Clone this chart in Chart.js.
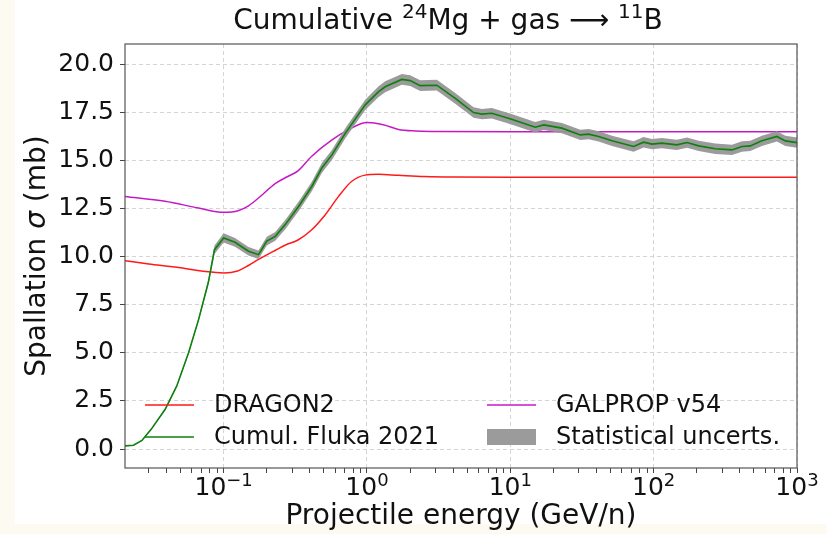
<!DOCTYPE html>
<html>
<head>
<meta charset="utf-8">
<script src="https://cdn.jsdelivr.net/npm/chart.js@4/dist/chart.umd.min.js"></script>
<style>
  html, body { margin: 0; padding: 0; background: #fdfaf2; }
  canvas { display: block; }
</style>
</head>
<body>
<canvas id="chart" width="827" height="534"></canvas>
<script>
// --- dados: secoes de choque de espalacao Mg24 -> B11 ---

// DRAGON2 (curva suave)
const dragonE = [0.0205, 0.03, 0.05, 0.075, 0.1, 0.125, 0.15, 0.175, 0.23, 0.27, 0.33, 0.41, 0.51, 0.63, 0.78, 0.97, 1.2, 1.66, 2.5, 4.1, 10, 100, 1000];
const dragonSigma = [9.78, 9.62, 9.42, 9.22, 9.15, 9.25, 9.55, 9.85, 10.33, 10.6, 10.86, 11.38, 12.16, 13.1, 13.9, 14.23, 14.27, 14.22, 14.16, 14.13, 14.12, 14.12, 14.12];

// GALPROP v54
const galpropE = [0.0205, 0.039, 0.067, 0.1, 0.126, 0.15, 0.175, 0.23, 0.28, 0.33, 0.41, 0.57, 0.74, 1.0, 1.3, 1.66, 2.2, 3.2, 10, 100, 1000];
const galpropSigma = [13.12, 12.87, 12.52, 12.3, 12.38, 12.65, 13.04, 13.8, 14.16, 14.45, 15.2, 16.06, 16.58, 16.96, 16.85, 16.6, 16.52, 16.49, 16.48, 16.48, 16.48];

// Fluka 2021 cumulativo + incerteza estatistica
const flukaE = [0.0205, 0.0235, 0.0269, 0.0313, 0.0391, 0.0471, 0.0569, 0.0667, 0.0784, 0.0863, 0.1, 0.12, 0.149, 0.175, 0.2, 0.229, 0.269, 0.333, 0.412, 0.484, 0.569, 0.705, 0.972, 1.2, 1.34, 1.75, 2.0, 2.35, 3.07, 4.13, 5.54, 6.33, 7.43, 10.2, 14.9, 17.1, 22.9, 30.8, 35.2, 41.3, 51.2, 72.5, 85.1, 97.3, 114, 145, 171, 206, 269, 352, 413, 472, 569, 724, 829, 1000];
const flukaSigma = [0.17, 0.2, 0.45, 1.04, 2.07, 3.28, 5.0, 6.7, 8.7, 10.36, 10.97, 10.74, 10.28, 10.1, 10.8, 11.05, 11.66, 12.6, 13.64, 14.6, 15.28, 16.4, 17.88, 18.55, 18.82, 19.2, 19.14, 18.88, 18.9, 18.22, 17.48, 17.4, 17.44, 17.13, 16.72, 16.84, 16.67, 16.32, 16.36, 16.24, 16.01, 15.72, 15.94, 15.84, 15.89, 15.8, 15.92, 15.75, 15.6, 15.54, 15.72, 15.75, 16.01, 16.24, 16.01, 15.92];
const flukaErr = [0.02, 0.02, 0.03, 0.03, 0.04, 0.05, 0.06, 0.08, 0.15, 0.22, 0.24, 0.23, 0.22, 0.22, 0.23, 0.23, 0.24, 0.25, 0.25, 0.26, 0.26, 0.27, 0.27, 0.28, 0.28, 0.28, 0.28, 0.28, 0.28, 0.28, 0.27, 0.27, 0.27, 0.27, 0.27, 0.27, 0.27, 0.27, 0.27, 0.27, 0.27, 0.27, 0.27, 0.27, 0.27, 0.27, 0.27, 0.27, 0.27, 0.27, 0.27, 0.27, 0.27, 0.27, 0.27, 0.27];

// eixos
const yTicks = [0, 2.5, 5, 7.5, 10, 12.5, 15, 17.5, 20];
const xTickValues = [0.1, 1, 10, 100, 1000];
const xTickExp = ['\u22121', '0', '1', '2', '3'];

const FONT = 'DejaVu Sans';
const TXT = '#111';
const pts = (xs, ys) => xs.map((x, i) => ({ x: x, y: ys[i] }));

// ticks menores do eixo log (2..9 x 10^n) + maiores
function ticksLog(min, max) {
  let t = [];
  for (let p = -2; p <= 3; p++) {
    for (let m = 1; m <= 9; m++) {
      let v = +(m * Math.pow(10, p)).toPrecision(3);
      if (v >= min && v <= max) t.push({ value: v });
    }
  }
  return t;
}
const isMajor = v => xTickValues.indexOf(v) >= 0;

// desenha uma sequencia de pedacos [texto, fonte, deslocamento vertical]
function textoComposto(c, partes, x, y, centro) {
  let w = 0;
  partes.forEach(p => { c.font = p[1]; w += c.measureText(p[0]).width; });
  let cx = centro ? x - w / 2 : x;
  partes.forEach(p => {
    c.font = p[1];
    c.fillText(p[0], cx, y + (p[2] || 0));
    cx += c.measureText(p[0]).width;
  });
}

// fundo bege + area branca da figura
const fundo = {
  id: 'fundo',
  beforeDraw(chart) {
    const c = chart.ctx;
    c.save();
    c.fillStyle = '#fdfaf2';
    c.fillRect(0, 0, chart.width, chart.height);
    c.fillStyle = '#ffffff';
    c.fillRect(15, 0, chart.width - 15, 524);
    c.restore();
  }
};

// moldura, titulos, rotulos 10^n e legenda em duas colunas
const extras = {
  id: 'extras',
  afterDraw(chart) {
    const c = chart.ctx;
    const a = chart.chartArea;
    c.save();
    c.strokeStyle = '#555';
    c.lineWidth = 1.2;
    c.strokeRect(a.left, a.top, a.right - a.left, a.bottom - a.top);

    c.fillStyle = TXT;
    c.textBaseline = 'alphabetic';
    c.textAlign = 'left';

    // titulo
    const big = '28px ' + FONT, sup = '20px ' + FONT;
    textoComposto(c, [
      ['Cumulative ', big], ['24', sup, -11], ['Mg + gas ', big],
      ['\u27F6', big], [' ', big], ['11', sup, -11], ['B', big]
    ], 448, 29, true);

    // rotulos do eixo x
    const sx = chart.scales.x;
    xTickValues.forEach((v, i) => {
      textoComposto(c, [['10', '25px ' + FONT], [xTickExp[i], '18px ' + FONT, -9]],
        sx.getPixelForValue(v), 495, true);
    });

    // titulos dos eixos
    textoComposto(c, [['Projectile energy (GeV/n)', big]], (a.left + a.right) / 2, 524, true);
    c.save();
    c.translate(45, (a.top + a.bottom) / 2);
    c.rotate(-Math.PI / 2);
    textoComposto(c, [['Spallation ', big], ['\u03C3', 'italic ' + big], [' (mb)', big]], 0, 0, true);
    c.restore();

    // legenda
    const ds = chart.data.datasets;
    const itens = [
      { txt: 'DRAGON2', cor: ds[4].borderColor, x: 145, y: 405 },
      { txt: 'Cumul. Fluka 2021', cor: ds[0].borderColor, x: 145, y: 437 },
      { txt: 'GALPROP v54', cor: ds[3].borderColor, x: 487, y: 405 },
      { txt: 'Statistical uncerts.', cor: ds[1].backgroundColor, x: 487, y: 437, patch: true }
    ];
    c.font = '24px ' + FONT;
    c.textBaseline = 'middle';
    itens.forEach(it => {
      if (it.patch) {
        c.fillStyle = it.cor;
        c.fillRect(it.x, it.y - 8, 49, 16);
      } else {
        c.strokeStyle = it.cor;
        c.lineWidth = 1.6;
        c.beginPath();
        c.moveTo(it.x, it.y);
        c.lineTo(it.x + 49, it.y);
        c.stroke();
      }
      c.fillStyle = TXT;
      c.fillText(it.txt, it.x + 69, it.y + 1);
    });
    c.restore();
  }
};

new Chart(document.getElementById('chart').getContext('2d'), {
  type: 'line',
  data: {
    datasets: [
      {
        label: 'Cumul. Fluka 2021',
        data: pts(flukaE, flukaSigma),
        borderColor: '#0d800d',
        borderWidth: 1.6,
        tension: 0,
        pointRadius: 0,
        fill: false,
        order: 0
      },
      {
        label: 'Statistical uncerts.',
        data: pts(flukaE, flukaSigma.map((v, i) => v + flukaErr[i])),
        borderWidth: 0,
        borderColor: 'rgba(0,0,0,0)',
        backgroundColor: 'rgba(150,150,150,0.95)',
        pointRadius: 0,
        fill: '+1',
        order: 1
      },
      {
        label: 'lo',
        data: pts(flukaE, flukaSigma.map((v, i) => v - flukaErr[i])),
        borderWidth: 0,
        borderColor: 'rgba(0,0,0,0)',
        pointRadius: 0,
        fill: false,
        order: 1
      },
      {
        label: 'GALPROP v54',
        data: pts(galpropE, galpropSigma),
        borderColor: '#c41ac4',
        borderWidth: 1.5,
        cubicInterpolationMode: 'monotone',
        pointRadius: 0,
        fill: false,
        order: 2
      },
      {
        label: 'DRAGON2',
        data: pts(dragonE, dragonSigma),
        borderColor: '#ff1a1a',
        borderWidth: 1.5,
        cubicInterpolationMode: 'monotone',
        pointRadius: 0,
        fill: false,
        order: 3
      }
    ]
  },
  options: {
    responsive: false,
    animation: false,
    events: [],
    layout: { padding: { top: 44, right: 30, bottom: 0, left: 0 } },
    plugins: {
      legend: { display: false },
      title: { display: false },
      tooltip: { enabled: false }
    },
    scales: {
      x: {
        type: 'logarithmic',
        min: 0.0205,
        max: 1000,
        afterBuildTicks: axis => { axis.ticks = ticksLog(0.0205, 1000); },
        afterFit: axis => { axis.height = 66; },
        ticks: {
          autoSkip: false,
          maxRotation: 0,
          callback: () => ''
        },
        grid: {
          color: ctx => (ctx.tick && isMajor(ctx.tick.value) ? '#d4d4d4' : 'rgba(0,0,0,0)'),
          tickColor: '#444',
          tickLength: 5
        },
        border: { display: false, dash: [4, 3] },
        title: { display: false }
      },
      y: {
        type: 'linear',
        min: -0.98,
        max: 21.04,
        afterBuildTicks: axis => { axis.ticks = yTicks.map(v => ({ value: v })); },
        afterFit: axis => { axis.width = 125; },
        ticks: {
          padding: 6,
          color: TXT,
          font: { family: FONT, size: 25 },
          callback: v => v.toFixed(1)
        },
        grid: {
          color: '#d4d4d4',
          tickColor: '#444',
          tickLength: 5
        },
        border: { display: false, dash: [4, 3] },
        title: { display: false }
      }
    }
  },
  plugins: [fundo, extras]
});
</script>
</body>
</html>
